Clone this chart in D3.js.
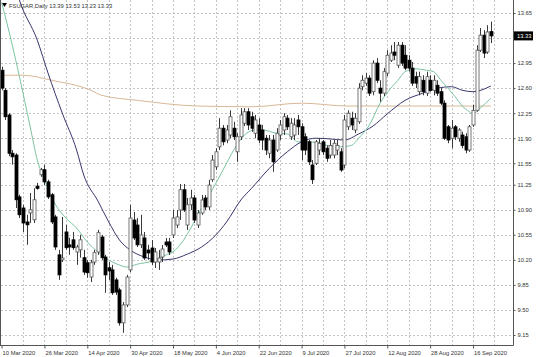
<!DOCTYPE html>
<html lang="en">
<head>
<meta charset="UTF-8">
<title>FSUGAR, Daily</title>
<style>
  body { margin: 0; background: #fff; }
  svg { display: block; font-family: "Liberation Sans", Arial, sans-serif; }
</style>
</head>
<body>
<div id="chart"></div>
<script src="https://d3js.org/d3.v7.min.js"></script>
<script>
// daily OHLC, 10 Mar 2020 .. 23 Sep 2020 (one value per bar)
var opens = [12.85,12.57,12.225,11.69,11.665,11.08,10.925,10.73,10.855,10.76,11.23,11.39,11.46,11.29,11.11,10.80,10.27,10.20,10.59,10.41,
  10.48,10.31,10.34,10.23,10.16,9.96,10.17,10.31,10.52,10.24,10.09,10.06,9.92,9.78,9.32,9.57,10.06,10.757,10.687,10.41,
  10.506,10.338,10.366,10.17,10.17,10.24,10.45,10.45,10.548,10.687,10.897,11.18,10.687,10.97,11.065,10.687,10.855,11.065,10.94,11.32,
  11.50,11.78,12.04,11.875,11.945,12.04,11.71,11.92,12.11,12.27,12.20,11.97,12.085,12.015,11.90,11.69,11.875,11.735,11.945,12.015,
  12.18,11.92,11.945,12.155,12.06,11.92,11.85,11.526,11.55,11.735,11.85,11.76,11.665,11.665,11.735,11.71,11.526,12.06,12.18,12.015,
  12.13,12.62,12.67,12.74,12.55,12.95,12.60,12.53,12.81,12.99,13.105,12.92,13.20,13.06,12.99,12.88,12.76,12.55,12.71,12.53,
  12.71,12.57,12.64,12.55,12.39,12.06,11.90,12.06,11.90,11.945,11.92,11.735,12.085,12.29,13.13,13.34,13.105,13.39];
var highs = [12.90,12.60,12.25,11.735,11.69,11.11,10.97,10.83,11.135,11.20,11.275,11.485,11.53,11.32,11.135,10.83,10.34,10.80,10.69,10.51,
  10.59,10.41,10.55,10.34,10.20,10.20,10.34,10.62,10.55,10.27,10.17,10.13,9.95,9.81,9.61,9.99,10.97,10.87,10.785,10.83,
  10.59,10.41,10.478,10.366,10.338,10.408,10.506,10.506,10.897,10.897,11.26,11.26,11.065,11.18,11.107,10.897,11.107,11.107,11.32,11.665,
  11.76,12.18,12.085,12.085,12.29,12.13,11.97,12.32,12.32,12.32,12.27,12.225,12.18,12.085,11.945,11.945,11.945,12.04,12.155,12.25,
  12.225,12.18,12.18,12.225,12.11,11.97,11.875,11.595,11.875,11.90,11.875,11.80,11.875,11.875,11.875,11.76,12.225,12.29,12.27,12.25,
  12.67,12.78,12.81,12.78,12.99,13.02,12.71,12.88,13.13,13.20,13.245,13.245,13.245,13.20,13.06,12.965,12.83,12.83,12.78,12.83,
  12.78,12.78,12.71,12.60,12.43,12.085,12.155,12.085,12.04,11.99,11.97,12.085,12.365,13.20,13.44,13.41,13.48,13.53];
var lows = [12.57,12.155,11.65,11.53,10.925,10.785,10.59,10.41,10.715,10.715,11.18,11.36,11.245,11.05,10.70,10.34,9.92,10.17,10.34,10.27,
  10.34,10.13,10.23,9.99,9.95,9.89,10.13,10.27,10.20,9.74,9.92,9.71,9.71,9.28,9.18,9.54,10.03,10.478,10.38,10.366,
  10.20,10.20,10.128,10.087,10.059,10.17,10.38,10.268,10.506,10.645,10.757,10.87,10.617,10.897,10.715,10.645,10.83,10.897,10.897,11.29,
  11.456,11.735,11.80,11.83,11.90,11.875,11.57,11.875,12.07,12.015,11.99,11.90,11.83,11.735,11.665,11.62,11.43,11.71,11.875,11.945,
  12.015,11.875,11.875,11.945,11.595,11.665,11.526,11.26,11.526,11.665,11.665,11.57,11.62,11.62,11.665,11.43,11.48,12.015,12.015,11.97,
  12.10,12.57,12.63,12.49,12.50,12.67,12.41,12.49,12.77,12.965,12.99,12.88,12.91,12.85,12.83,12.63,12.60,12.50,12.50,12.49,
  12.55,12.50,12.49,12.365,11.875,11.83,11.76,11.875,11.85,11.76,11.69,11.71,12.06,12.27,13.105,13.02,13.08,13.23];
var closes = [12.60,12.20,11.69,11.64,11.04,10.83,10.715,10.69,10.90,11.04,11.20,11.46,11.29,11.08,10.73,10.38,9.99,10.226,10.37,10.38,
  10.37,10.38,10.48,10.03,10.02,10.16,10.30,10.58,10.23,9.99,10.045,9.74,9.75,9.32,9.57,9.96,10.785,10.506,10.41,10.548,
  10.226,10.296,10.17,10.31,10.226,10.352,10.408,10.31,10.785,10.80,11.18,10.897,10.97,11.065,10.757,10.855,11.037,10.94,11.245,11.595,
  11.71,12.04,11.85,12.015,12.20,11.92,11.92,12.225,12.27,12.085,12.04,12.155,11.875,11.875,11.735,11.875,11.57,11.97,12.085,12.20,
  12.06,12.11,12.085,12.06,11.735,11.735,11.57,11.32,11.85,11.83,11.71,11.62,11.80,11.83,11.80,11.456,12.155,12.25,12.085,12.18,
  12.60,12.71,12.74,12.53,12.95,12.71,12.53,12.83,13.06,13.09,13.06,13.20,12.95,12.88,12.88,12.67,12.67,12.76,12.55,12.76,
  12.57,12.71,12.53,12.39,11.90,11.875,12.04,11.92,12.015,11.80,11.735,12.06,12.29,13.13,13.34,13.09,13.385,13.33];

// date labels every 12 bars
var tickIdx = [0, 12, 24, 36, 48, 60, 72, 84, 96, 108, 120, 132];
var tickLabels = ["10 Mar 2020", "26 Mar 2020", "14 Apr 2020", "30 Apr 2020", "18 May 2020", "4 Jun 2020",
  "22 Jun 2020", "9 Jul 2020", "27 Jul 2020", "12 Aug 2020", "28 Aug 2020", "16 Sep 2020"];
var priceTicks = [13.65, 13.30, 12.95, 12.60, 12.25, 11.90, 11.55, 11.25, 10.90, 10.55, 10.20, 9.85, 9.50, 9.15];

// moving averages (bar index, value)
var maFastIdx = [0,3,5,8,10,12,15,18,21,24,27,30,33,35,38,42,46,48,51,53,56,59,62,65,68,71,73,77,80,83,86,89,92,95,98,100,103,106,109,111,113,116,119,121,123,125,127,129,131,132,134,137];
var maFast = [13.80,13.20,12.76,12.06,11.595,11.32,10.98,10.785,10.645,10.45,10.31,10.198,10.128,10.10,10.14,10.18,10.268,10.31,10.48,10.645,10.925,11.18,11.456,11.735,11.945,12.015,12.015,11.97,11.96,11.85,11.85,11.83,11.79,11.78,11.80,11.90,12.085,12.39,12.60,12.71,12.83,12.87,12.85,12.83,12.71,12.60,12.48,12.35,12.27,12.24,12.32,12.46];
var maMidIdx = [3,5,10,13,17,21,23,27,30,33,36,40,44,48,52,56,60,63,67,70,75,80,84,88,92,96,100,104,108,113,118,122,126,129,132,137];
var maMid = [14.18,13.83,13.27,12.81,12.25,11.735,11.386,11.02,10.73,10.478,10.338,10.24,10.198,10.212,10.28,10.38,10.548,10.73,11.037,11.20,11.48,11.71,11.85,11.90,11.89,11.875,11.96,12.07,12.24,12.43,12.53,12.60,12.62,12.57,12.55,12.63];
var maSlowIdx = [0,6,14,25,28,38,55,70,84,97,110,124,137];
var maSlow = [12.78,12.78,12.71,12.57,12.50,12.43,12.35,12.34,12.39,12.35,12.35,12.35,12.35];

var header = "FSUGAR,Daily  13.39 13.53 13.23 13.33";
var lastPrice = 13.33;

var W = 536, H = 357;
var plotRight = 513, plotBottom = 345;
var barStep = 3.571;
var fontSize = "5.8px";

var svg = d3.select("#chart").append("svg")
    .attr("width", W)
    .attr("height", H);

var x = d3.scaleLinear().domain([0, 1]).range([1.6, 1.6 + barStep]);
var y = d3.scaleLinear().domain([9.15, 13.65]).range([335, 13]);

svg.append("defs").append("clipPath").attr("id", "plot")
  .append("rect").attr("x", 1).attr("y", 0).attr("width", plotRight - 1).attr("height", plotBottom);

// grid
var gridIdx = d3.range(6, 139, 6);
svg.append("g").selectAll("line").data(gridIdx).enter().append("line")
    .attr("x1", function(d) { return Math.round(x(d)) + 0.5; })
    .attr("x2", function(d) { return Math.round(x(d)) + 0.5; })
    .attr("y1", 0).attr("y2", plotBottom)
    .attr("stroke", "#c4c4c4").attr("stroke-dasharray", "2,2");
svg.append("g").selectAll("line").data(priceTicks).enter().append("line")
    .attr("x1", 1).attr("x2", plotRight)
    .attr("y1", function(d) { return Math.round(y(d)) + 0.5; })
    .attr("y2", function(d) { return Math.round(y(d)) + 0.5; })
    .attr("stroke", "#c4c4c4").attr("stroke-dasharray", "2,2");

var plot = svg.append("g").attr("clip-path", "url(#plot)");

// moving averages
function maLine(idx, vals, color) {
  var pts = idx.map(function(d, i) { return [d, vals[i]]; });
  plot.append("path")
    .datum(pts)
    .attr("fill", "none")
    .attr("stroke", color)
    .attr("stroke-width", 1)
    .attr("d", d3.line()
      .x(function(d) { return x(d[0]); })
      .y(function(d) { return y(d[1]); })
      .curve(d3.curveMonotoneX));
}
maLine(maSlowIdx, maSlow, "#d9b896");
maLine(maMidIdx, maMid, "#38386e");
maLine(maFastIdx, maFast, "#7cc4a0");

// candles
var bars = d3.range(opens.length);
plot.append("g").selectAll("line").data(bars).enter().append("line")
    .attr("x1", function(i) { return Math.round(x(i)) + 0.5; })
    .attr("x2", function(i) { return Math.round(x(i)) + 0.5; })
    .attr("y1", function(i) { return y(highs[i]); })
    .attr("y2", function(i) { return y(lows[i]); })
    .attr("stroke", "#3a3a3a");
plot.append("g").selectAll("rect").data(bars).enter().append("rect")
    .attr("x", function(i) { return Math.round(x(i)) - 1; })
    .attr("width", 3)
    .attr("y", function(i) { return y(Math.max(opens[i], closes[i])); })
    .attr("height", function(i) { return Math.max(1, Math.abs(y(opens[i]) - y(closes[i]))); })
    .attr("fill", function(i) { return closes[i] >= opens[i] ? "#fff" : "#000"; })
    .attr("stroke", function(i) { return closes[i] >= opens[i] ? "#555" : "#000"; })
    .attr("stroke-width", 0.8);

// frame
svg.append("line").attr("x1", 0.5).attr("x2", 0.5).attr("y1", 0).attr("y2", plotBottom + 0.5).attr("stroke", "#555");
svg.append("line").attr("x1", 0).attr("x2", plotRight + 0.5).attr("y1", plotBottom + 0.5).attr("y2", plotBottom + 0.5).attr("stroke", "#555");
svg.append("line").attr("x1", plotRight + 0.5).attr("x2", plotRight + 0.5).attr("y1", 0).attr("y2", plotBottom + 0.5).attr("stroke", "#555");

// price axis (the label under the last-price tag is hidden, as in the terminal)
var fmt = d3.format(".2f");
var yAxis = svg.append("g")
    .attr("transform", "translate(" + (plotRight + 0.5) + ",0)")
    .call(d3.axisRight(y).tickValues(priceTicks)
      .tickFormat(function(d) { return Math.abs(y(d) - y(lastPrice)) < 8 ? "" : fmt(d); })
      .tickSize(2).tickPadding(2));
yAxis.select(".domain").remove();
yAxis.selectAll("line").attr("stroke", "#555");
yAxis.selectAll("text").attr("font-size", fontSize).attr("fill", "#333").attr("font-family", null);

// date axis
var xAxis = svg.append("g")
    .attr("transform", "translate(0," + (plotBottom + 0.5) + ")")
    .call(d3.axisBottom(x).tickValues(tickIdx).tickFormat(function(d, i) { return tickLabels[i]; }).tickSize(3).tickPadding(2));
xAxis.select(".domain").remove();
xAxis.selectAll("line").attr("stroke", "#555");
xAxis.selectAll("text").attr("font-size", fontSize).attr("fill", "#333")
    .attr("text-anchor", "start").attr("dx", "0.5")
    .attr("font-family", null);

// last price tag
var lp = svg.append("g").attr("transform", "translate(" + (plotRight + 1) + "," + y(lastPrice) + ")");
lp.append("rect").attr("x", 0).attr("y", -4.5).attr("width", 19).attr("height", 9).attr("fill", "#000");
lp.append("text").attr("x", 3).attr("y", 2).attr("font-size", fontSize).attr("fill", "#fff").text(fmt(lastPrice));

// header
svg.append("path").attr("d", "M2,3 L7,3 L4.5,7 Z").attr("fill", "#000");
svg.append("text").attr("x", 9).attr("y", 7.5).attr("font-size", fontSize).attr("fill", "#333").text(header);
</script>
</body>
</html>
